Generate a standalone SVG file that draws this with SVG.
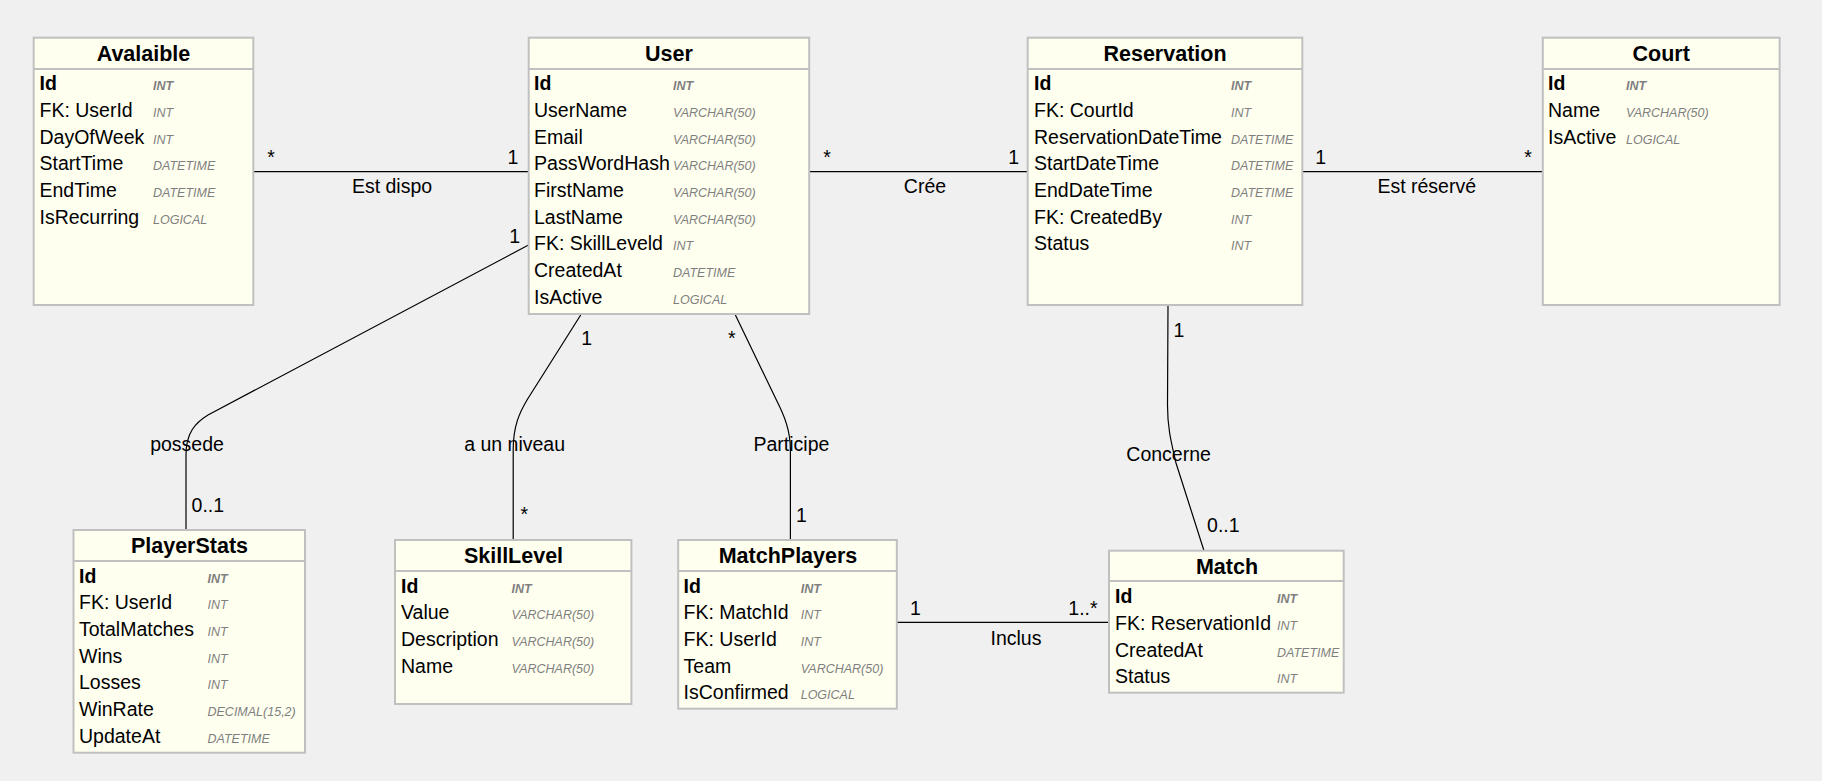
<svg xmlns="http://www.w3.org/2000/svg" width="1822" height="781" viewBox="0 0 1822 781">
<style>
.bg{fill:#f0f0f0}
.box{fill:#fffff0;stroke:#c0c0c0;stroke-width:2}
.sep{stroke:#c0c0c0;stroke-width:2}
text{font-family:"Liberation Sans",Arial,sans-serif;fill:#000}
.ti{font-size:21.5px;font-weight:bold;text-anchor:middle}
.f{font-size:19.5px}
.pk{font-weight:bold}
.t{font-size:12.5px;font-style:italic;fill:#7f7f7f}
.tb{font-weight:bold}
.conn{fill:none;stroke:#000;stroke-width:1.2}
.l{font-size:19.5px;text-anchor:middle}
</style>
<rect class="bg" x="0" y="0" width="1822" height="781"/>

<g id="connectors">
<path class="conn" d="M253.3,171.7 H528.5"/>
<path class="conn" d="M809.2,171.7 H1028"/>
<path class="conn" d="M1302.3,171.7 H1543"/>
<path class="conn" d="M528.5,245 L208,415 C195,423 186,433 186,455 L186,530"/>
<path class="conn" d="M580.7,315 L527,400 C520,412 513.2,425 513.2,450 L513.2,540"/>
<path class="conn" d="M735.4,315 L776.4,400 C784,415 790.4,430 790.4,450 L790.4,540"/>
<path class="conn" d="M1168,305 L1167.5,405 C1167.5,430 1172,445 1176,463 L1204,550.7"/>
<path class="conn" d="M896.8,622.3 H1109"/>
<text class="l" x="271" y="164">*</text>
<text class="l" x="513" y="164">1</text>
<text class="l" x="392" y="193">Est dispo</text>
<text class="l" x="827" y="164">*</text>
<text class="l" x="1013.6" y="164">1</text>
<text class="l" x="925" y="193">Crée</text>
<text class="l" x="1320.8" y="164">1</text>
<text class="l" x="1528" y="164">*</text>
<text class="l" x="1426.7" y="193">Est réservé</text>
<text class="l" x="514.7" y="242.7">1</text>
<text class="l" x="207.8" y="511.7">0..1</text>
<text class="l" x="187" y="450.7">possede</text>
<text class="l" x="586.6" y="345">1</text>
<text class="l" x="524.3" y="520.5">*</text>
<text class="l" x="514.6" y="450.7">a un niveau</text>
<text class="l" x="731.8" y="344.7">*</text>
<text class="l" x="801.4" y="521.7">1</text>
<text class="l" x="791.4" y="450.7">Participe</text>
<text class="l" x="915.5" y="615">1</text>
<text class="l" x="1083" y="615">1..*</text>
<text class="l" x="1016" y="645">Inclus</text>
<text class="l" x="1179" y="337.3">1</text>
<text class="l" x="1223.3" y="531.7">0..1</text>
<text class="l" x="1168.6" y="461">Concerne</text>
</g>

<g id="Avalaible">
<rect class="box" x="33.7" y="37.7" width="219.6" height="267.3"/>
<line class="sep" x1="33.7" y1="69" x2="253.3" y2="69"/>
<text class="ti" x="143.5" y="61.3">Avalaible</text>
<text class="f pk" x="39.5" y="90.2">Id</text><text class="t tb" x="153" y="90.2">INT</text>
<text class="f" x="39.5" y="116.9">FK: UserId</text><text class="t" x="153" y="116.9">INT</text>
<text class="f" x="39.5" y="143.5">DayOfWeek</text><text class="t" x="153" y="143.5">INT</text>
<text class="f" x="39.5" y="170.2">StartTime</text><text class="t" x="153" y="170.2">DATETIME</text>
<text class="f" x="39.5" y="196.9">EndTime</text><text class="t" x="153" y="196.9">DATETIME</text>
<text class="f" x="39.5" y="223.5">IsRecurring</text><text class="t" x="153" y="223.5">LOGICAL</text>
</g>

<g id="User">
<rect class="box" x="528.7" y="37.7" width="280.5" height="276.3"/>
<line class="sep" x1="528.7" y1="69" x2="809.2" y2="69"/>
<text class="ti" x="669" y="61.3">User</text>
<text class="f pk" x="534" y="90.2">Id</text><text class="t tb" x="673" y="90.2">INT</text>
<text class="f" x="534" y="116.9">UserName</text><text class="t" x="673" y="116.9">VARCHAR(50)</text>
<text class="f" x="534" y="143.5">Email</text><text class="t" x="673" y="143.5">VARCHAR(50)</text>
<text class="f" x="534" y="170.2" textLength="136" lengthAdjust="spacingAndGlyphs">PassWordHash</text><text class="t" x="673" y="170.2">VARCHAR(50)</text>
<text class="f" x="534" y="196.9">FirstName</text><text class="t" x="673" y="196.9">VARCHAR(50)</text>
<text class="f" x="534" y="223.5">LastName</text><text class="t" x="673" y="223.5">VARCHAR(50)</text>
<text class="f" x="534" y="250.2">FK: SkillLeveld</text><text class="t" x="673" y="250.2">INT</text>
<text class="f" x="534" y="276.9">CreatedAt</text><text class="t" x="673" y="276.9">DATETIME</text>
<text class="f" x="534" y="303.5">IsActive</text><text class="t" x="673" y="303.5">LOGICAL</text>
</g>

<g id="Reservation">
<rect class="box" x="1027.7" y="37.7" width="274.6" height="267.3"/>
<line class="sep" x1="1027.7" y1="69" x2="1302.3" y2="69"/>
<text class="ti" x="1165" y="61.3">Reservation</text>
<text class="f pk" x="1034" y="90.2">Id</text><text class="t tb" x="1231" y="90.2">INT</text>
<text class="f" x="1034" y="116.9">FK: CourtId</text><text class="t" x="1231" y="116.9">INT</text>
<text class="f" x="1034" y="143.5">ReservationDateTime</text><text class="t" x="1231" y="143.5">DATETIME</text>
<text class="f" x="1034" y="170.2">StartDateTime</text><text class="t" x="1231" y="170.2">DATETIME</text>
<text class="f" x="1034" y="196.9">EndDateTime</text><text class="t" x="1231" y="196.9">DATETIME</text>
<text class="f" x="1034" y="223.5">FK: CreatedBy</text><text class="t" x="1231" y="223.5">INT</text>
<text class="f" x="1034" y="250.2">Status</text><text class="t" x="1231" y="250.2">INT</text>
</g>

<g id="Court">
<rect class="box" x="1542.8" y="37.7" width="236.8" height="267.3"/>
<line class="sep" x1="1542.8" y1="69" x2="1779.6" y2="69"/>
<text class="ti" x="1661.2" y="61.3">Court</text>
<text class="f pk" x="1548" y="90.2">Id</text><text class="t tb" x="1626" y="90.2">INT</text>
<text class="f" x="1548" y="116.9">Name</text><text class="t" x="1626" y="116.9">VARCHAR(50)</text>
<text class="f" x="1548" y="143.5">IsActive</text><text class="t" x="1626" y="143.5">LOGICAL</text>
</g>

<g id="PlayerStats">
<rect class="box" x="73.5" y="530" width="231.5" height="222.7"/>
<line class="sep" x1="73.5" y1="561" x2="305" y2="561"/>
<text class="ti" x="189.5" y="553.3">PlayerStats</text>
<text class="f pk" x="79" y="582.5">Id</text><text class="t tb" x="207.5" y="582.5">INT</text>
<text class="f" x="79" y="609.2">FK: UserId</text><text class="t" x="207.5" y="609.2">INT</text>
<text class="f" x="79" y="635.8">TotalMatches</text><text class="t" x="207.5" y="635.8">INT</text>
<text class="f" x="79" y="662.5">Wins</text><text class="t" x="207.5" y="662.5">INT</text>
<text class="f" x="79" y="689.2">Losses</text><text class="t" x="207.5" y="689.2">INT</text>
<text class="f" x="79" y="715.8">WinRate</text><text class="t" x="207.5" y="715.8">DECIMAL(15,2)</text>
<text class="f" x="79" y="742.5">UpdateAt</text><text class="t" x="207.5" y="742.5">DATETIME</text>
</g>

<g id="SkillLevel">
<rect class="box" x="395" y="540" width="236.4" height="164"/>
<line class="sep" x1="395" y1="571" x2="631.4" y2="571"/>
<text class="ti" x="513.5" y="563.3">SkillLevel</text>
<text class="f pk" x="401" y="592.5">Id</text><text class="t tb" x="511.5" y="592.5">INT</text>
<text class="f" x="401" y="619.2">Value</text><text class="t" x="511.5" y="619.2">VARCHAR(50)</text>
<text class="f" x="401" y="645.8">Description</text><text class="t" x="511.5" y="645.8">VARCHAR(50)</text>
<text class="f" x="401" y="672.5">Name</text><text class="t" x="511.5" y="672.5">VARCHAR(50)</text>
</g>

<g id="MatchPlayers">
<rect class="box" x="678.2" y="540" width="218.6" height="168.7"/>
<line class="sep" x1="678.2" y1="571" x2="896.8" y2="571"/>
<text class="ti" x="788" y="563.3">MatchPlayers</text>
<text class="f pk" x="683.6" y="592.5">Id</text><text class="t tb" x="800.7" y="592.5">INT</text>
<text class="f" x="683.6" y="619.2">FK: MatchId</text><text class="t" x="800.7" y="619.2">INT</text>
<text class="f" x="683.6" y="645.8">FK: UserId</text><text class="t" x="800.7" y="645.8">INT</text>
<text class="f" x="683.6" y="672.5">Team</text><text class="t" x="800.7" y="672.5">VARCHAR(50)</text>
<text class="f" x="683.6" y="699.2">IsConfirmed</text><text class="t" x="800.7" y="699.2">LOGICAL</text>
</g>

<g id="Match">
<rect class="box" x="1109" y="550.7" width="234.7" height="142"/>
<line class="sep" x1="1109" y1="581" x2="1343.7" y2="581"/>
<text class="ti" x="1227" y="574">Match</text>
<text class="f pk" x="1115" y="603.2">Id</text><text class="t tb" x="1277" y="603.2">INT</text>
<text class="f" x="1115" y="629.9">FK: ReservationId</text><text class="t" x="1277" y="629.9">INT</text>
<text class="f" x="1115" y="656.5">CreatedAt</text><text class="t" x="1277" y="656.5">DATETIME</text>
<text class="f" x="1115" y="683.2">Status</text><text class="t" x="1277" y="683.2">INT</text>
</g>
</svg>
